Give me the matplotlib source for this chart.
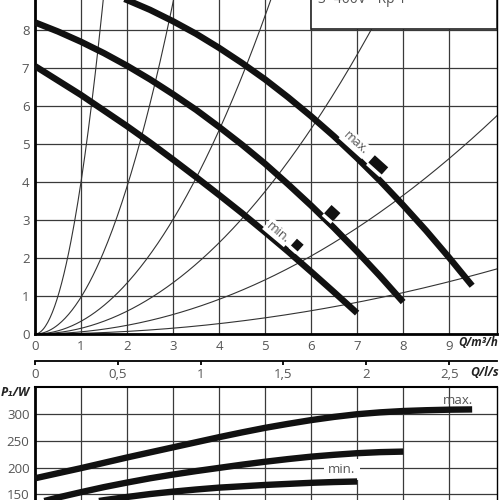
import numpy as np
import matplotlib
matplotlib.use("Agg")
import matplotlib.pyplot as plt
import matplotlib.patches as mpatches
import matplotlib.patheffects as pe

plt.rcParams['font.family'] = ['Open Sans', 'DejaVu Sans']

# pump head curves, Q in m3/h, H in m (read every 0.5 m3/h)
q_max = [0, 0.5, 1, 1.5, 2, 2.5, 3, 3.5, 4, 4.5, 5, 5.5, 6, 6.5, 7, 7.5, 8, 8.5, 9, 9.5]
h_max = [9.5, 9.37, 9.21, 9.02, 8.79, 8.53, 8.23, 7.9, 7.53, 7.13, 6.7, 6.23, 5.73,
         5.2, 4.63, 4.03, 3.39, 2.72, 2.01, 1.27]
q_mid = [0, 0.5, 1, 1.5, 2, 2.5, 3, 3.5, 4, 4.5, 5, 5.5, 6, 6.5, 7, 7.5, 8]
h_mid = [8.2, 7.96, 7.69, 7.39, 7.06, 6.7, 6.31, 5.9, 5.45, 4.98, 4.48, 3.94, 3.38,
         2.79, 2.17, 1.52, 0.84]
q_min = [0, 0.5, 1, 1.5, 2, 2.5, 3, 3.5, 4, 4.5, 5, 5.5, 6, 6.5, 7]
h_min = [7.05, 6.67, 6.29, 5.88, 5.47, 5.04, 4.59, 4.13, 3.66, 3.18, 2.68, 2.17, 1.64,
         1.1, 0.55]

# system curves H = k * Q^2 (coefficients)
system_k = [4.0, 0.97, 0.335, 0.15, 0.057, 0.017]

# power curves, P1 in W
pq_max = [0, 0.5, 1, 1.5, 2, 2.5, 3, 3.5, 4, 4.5, 5, 5.5, 6, 6.5, 7, 7.5, 8, 8.5, 9, 9.5]
p_max = [180, 189.5, 199, 209, 219, 228.5, 238, 247.5, 257, 266, 274.5, 282, 289,
         295, 300, 303.5, 306, 307.5, 308.5, 309]
pq_mid = [0, 0.5, 1, 1.5, 2, 2.5, 3, 3.5, 4, 4.5, 5, 5.5, 6, 6.5, 7, 7.5, 8]
p_mid = [133, 144, 154, 163.5, 172, 180, 187, 193.5, 199.5, 205.5, 211, 216, 220.5,
         224, 227, 229, 230]
pq_min = [0, 0.5, 1, 1.5, 2, 2.5, 3, 3.5, 4, 4.5, 5, 5.5, 6, 6.5, 7]
p_min = [114, 123.5, 132, 139, 145, 150.5, 155, 159, 162.5, 165, 167.5, 169.5, 171.5,
         173, 174]

q_ticks = [0, 1, 2, 3, 4, 5, 6, 7, 8, 9]
h_ticks = [0, 1, 2, 3, 4, 5, 6, 7, 8]
p_ticks = [150, 200, 250, 300]
ls_ticks = [0, 0.5, 1, 1.5, 2, 2.5]
ls_labels = ['0', '0,5', '1', '1,5', '2', '2,5']

# speed setting markers (Q, H, length in px, thickness in pt)
markers = [(7.46, 4.45, 18, 7.0), (6.46, 3.18, 12, 8.0), (5.7, 2.34, 9, 6.5)]

grey = '#555555'
grid_c = '#3a3a3a'
xmax = 10.04

fig = plt.figure(figsize=(5, 5), dpi=100)

# ---------- head diagram ----------
ax = fig.add_axes([0.07, 0.332, 0.924, 0.722])
ax.set_xlim(0, xmax)
ax.set_ylim(0, 9.5)
ax.set_xticks(q_ticks)
ax.set_yticks(h_ticks)
ax.grid(True, color=grid_c, lw=0.9)
ax.set_axisbelow(True)
ax.tick_params(length=0, labelsize=9.5, labelcolor=grey, pad=4)
for s in ['left', 'bottom']:
    ax.spines[s].set_linewidth(2)
ax.spines['right'].set_linewidth(1)
ax.spines['top'].set_visible(False)

qq = np.linspace(0, xmax, 400)
for k in system_k:
    ax.plot(qq, k * qq ** 2, color='#333333', lw=0.8, zorder=2)

for q, h in [(q_max, h_max), (q_mid, h_mid), (q_min, h_min)]:
    ax.plot(q, h, color='#111111', lw=4.6, solid_capstyle='butt', zorder=4)

ang = np.deg2rad(-42)
for mq, mh, length, thick in markers:
    dx = length / 2 * np.cos(ang) / 46.0
    dy = length / 2 * np.sin(ang) / 38.0
    ax.plot([mq - dx, mq + dx], [mh - dy, mh + dy], color='#111111', lw=thick,
            solid_capstyle='butt', zorder=5,
            path_effects=[pe.Stroke(linewidth=thick + 5, foreground='white'), pe.Normal()])

bb = dict(boxstyle='square,pad=0.1', fc='white', ec='none')
ax.text(6.96, 5.03, 'max.', rotation=-42, ha='center', va='center', fontsize=9,
        color=grey, bbox=bb, zorder=5)
ax.text(5.28, 2.68, 'min.', rotation=-40, ha='center', va='center', fontsize=9,
        color=grey, bbox=bb, zorder=5)

ax.add_patch(mpatches.Rectangle((6.0, 8.03), 4.04, 2.0, fc='white', ec='#222222',
                                lw=1.2, zorder=6))
fig.text(0.636, 0.994, '3~400V - Rp 1', fontsize=10, color=grey, va='baseline')

fig.text(0.917, 0.314, 'Q/m³/h', ha='left', va='center', fontsize=8.3,
         fontweight='bold', fontstyle='italic', color='#222222')

# ---------- l/s scale ----------
axs = fig.add_axes([0.07, 0.278, 0.924, 0.0001])
axs.set_xlim(0, xmax / 3.6)
axs.set_ylim(0, 1)
for s in ['left', 'right', 'top']:
    axs.spines[s].set_visible(False)
axs.spines['bottom'].set_linewidth(1.3)
axs.set_yticks([])
axs.set_xticks(ls_ticks)
axs.set_xticklabels(ls_labels)
axs.tick_params(axis='x', length=3, width=1.3, labelsize=9.5, labelcolor=grey, pad=2)
fig.text(0.941, 0.254, 'Q/l/s', ha='left', va='center', fontsize=8.8,
         fontweight='bold', fontstyle='italic', color='#222222')

# ---------- power diagram ----------
ax2 = fig.add_axes([0.07, -0.042, 0.924, 0.268])
ax2.set_xlim(0, xmax)
ax2.set_ylim(100, 351)
ax2.set_xticks(q_ticks[1:])
ax2.set_xticklabels([])
ax2.set_yticks(p_ticks)
ax2.grid(True, color=grid_c, lw=0.9)
ax2.set_axisbelow(True)
ax2.tick_params(length=0, labelsize=9.5, labelcolor=grey, pad=4)
ax2.spines['left'].set_linewidth(2)
ax2.spines['top'].set_linewidth(1.5)
ax2.spines['right'].set_linewidth(1)

for q, p in [(pq_max, p_max), (pq_mid, p_mid), (pq_min, p_min)]:
    ax2.plot(q, p, color='#111111', lw=4.6, solid_capstyle='butt', zorder=4)

ax2.text(9.2, 326, 'max.', ha='center', va='center', fontsize=9.5, color=grey)
ax2.text(6.67, 196, 'min.', ha='center', va='center', fontsize=9.5, color=grey,
         bbox=dict(boxstyle='square,pad=0.3', fc='white', ec='none'), zorder=3)
fig.text(0.002, 0.214, 'P₁/W', fontsize=9, fontweight='bold', fontstyle='italic',
         color='#222222', va='center', ha='left')

fig.savefig('out.png', dpi=100)
